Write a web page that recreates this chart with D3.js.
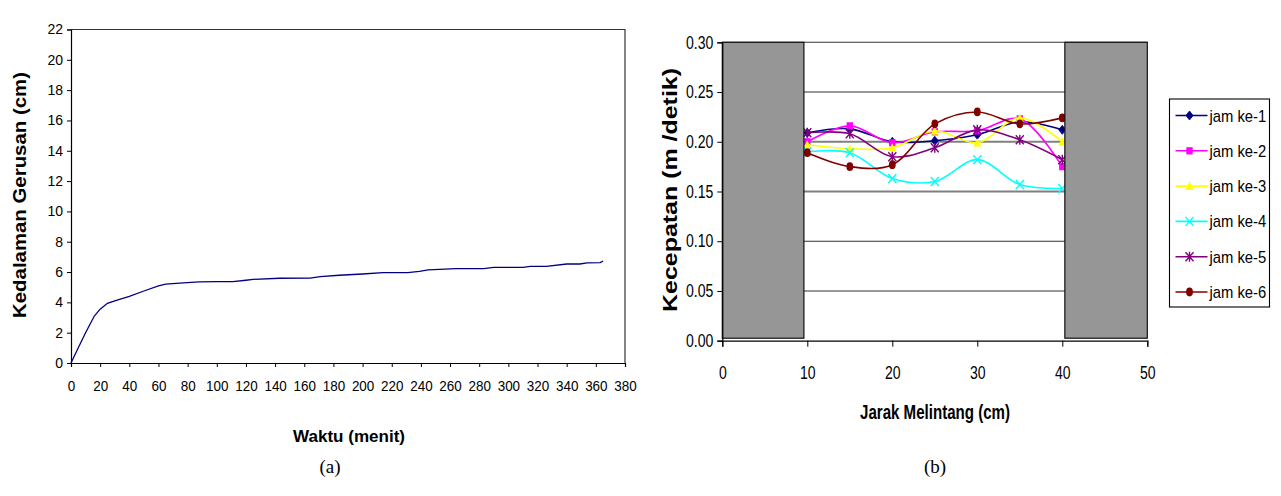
<!DOCTYPE html>
<html>
<head>
<meta charset="utf-8">
<script src="https://cdn.jsdelivr.net/npm/d3@7"></script>
<style>
  html, body { margin: 0; padding: 0; background: #fff; }
  svg { display: block; }
  text { font-family: "Liberation Sans", Arial, sans-serif; fill: #000; }
</style>
</head>
<body>
<svg id="chart" width="1281" height="496"></svg>
<script>
// ---------- Data: chart (a) ----------
const timeMin  = [0, 5, 10, 16, 20, 25, 30, 40, 50, 60, 65, 77, 88, 100, 111, 120, 125, 143, 164, 171, 184, 200, 214, 231, 239, 245, 264, 283, 290, 310, 315, 326, 340, 349, 354, 363, 365];
const depthCm  = [0, 1.0, 2.0, 3.1, 3.55, 3.94, 4.1, 4.4, 4.75, 5.08, 5.2, 5.28, 5.35, 5.37, 5.37, 5.46, 5.52, 5.59, 5.6, 5.7, 5.79, 5.87, 5.96, 5.96, 6.05, 6.14, 6.22, 6.22, 6.31, 6.31, 6.38, 6.38, 6.53, 6.53, 6.6, 6.62, 6.73];
const ticksA_x = [0,20,40,60,80,100,120,140,160,180,200,220,240,260,280,300,320,340,360,380];
const ticksA_y = [0,2,4,6,8,10,12,14,16,18,20,22];

// ---------- Data: chart (b) ----------
const jarak = [10, 15, 20, 25, 30, 35, 40];
const seriesNames = ["jam ke-1", "jam ke-2", "jam ke-3", "jam ke-4", "jam ke-5", "jam ke-6"];
const jam1 = [0.209, 0.213, 0.200, 0.201, 0.207, 0.220, 0.212];
const jam2 = [0.200, 0.216, 0.199, 0.210, 0.211, 0.223, 0.175];
const jam3 = [0.197, 0.193, 0.194, 0.211, 0.199, 0.224, 0.200];
const jam4 = [0.190, 0.189, 0.163, 0.160, 0.182, 0.157, 0.153];
const jam5 = [0.209, 0.208, 0.185, 0.194, 0.212, 0.202, 0.182];
const jam6 = [0.189, 0.175, 0.177, 0.218, 0.230, 0.218, 0.224];
const wallsX0 = [0, 40.3];
const wallsX1 = [9.6, 50];
const wallBottom = 0.0025, wallTop = 0.30;
const ticksB_x = [0, 10, 20, 30, 40, 50];
const ticksB_y = [0, 0.05, 0.10, 0.15, 0.20, 0.25, 0.30];

const colors  = ["#000080", "#FF00FF", "#FFFF00", "#00FFFF", "#800080", "#800000"];
const markers = ["diamond", "square", "triangle", "x", "star", "circle"];
const allSeries = [jam1, jam2, jam3, jam4, jam5, jam6];

const svg = d3.select("#chart");

function condense(sel, ratio) {
  sel.each(function () {
    const w = this.getComputedTextLength();
    this.setAttribute("textLength", (w * ratio).toFixed(2));
    this.setAttribute("lengthAdjust", "spacingAndGlyphs");
  });
}

// ================= Chart (a) =================
const xA = d3.scaleLinear().domain([0, 380]).range([71, 625]);
const yA = d3.scaleLinear().domain([0, 22]).range([363, 29.5]);

svg.append("path")
  .attr("d", `M${xA(0)},${yA(22)}H${xA(380)}V${yA(0)}`)
  .attr("fill", "none").attr("stroke", "#333").attr("stroke-width", 1.2);

const axAy = svg.append("g").attr("transform", `translate(${xA(0)},0)`)
  .call(d3.axisLeft(yA).tickValues(ticksA_y).tickSize(4).tickPadding(4).tickFormat(d3.format("d")));
const axAx = svg.append("g").attr("transform", `translate(0,${yA(0)})`)
  .call(d3.axisBottom(xA).tickValues(ticksA_x).tickSize(4).tickPadding(14).tickFormat(d3.format("d")));
[axAy, axAx].forEach(g => {
  g.select(".domain").attr("stroke", "#000").attr("stroke-width", 1.2);
  g.selectAll(".tick line").attr("stroke", "#000");
  g.selectAll("text").attr("font-size", 14).attr("font-family", "Liberation Sans, Arial, sans-serif").attr("fill", "#111");
});
condense(axAx.selectAll("text"), 0.96);

svg.append("path")
  .datum(timeMin.map((t, i) => [t, depthCm[i]]))
  .attr("d", d3.line().x(d => xA(d[0])).y(d => yA(d[1])))
  .attr("fill", "none").attr("stroke", "#000080").attr("stroke-width", 1.3);

svg.append("text")
  .attr("transform", `translate(26,195) rotate(-90)`)
  .attr("text-anchor", "middle").attr("font-weight", "bold").attr("font-size", 19)
  .attr("textLength", 246).attr("lengthAdjust", "spacingAndGlyphs")
  .text("Kedalaman Gerusan  (cm)");

svg.append("text")
  .attr("x", 349).attr("y", 441.5)
  .attr("text-anchor", "middle").attr("font-weight", "bold").attr("font-size", 17)
  .attr("textLength", 112).attr("lengthAdjust", "spacingAndGlyphs")
  .text("Waktu  (menit)");

svg.append("text")
  .attr("x", 330).attr("y", 473)
  .attr("text-anchor", "middle").attr("font-size", 19)
  .style("font-family", "Liberation Serif, 'Times New Roman', serif")
  .text("(a)");

// ================= Chart (b) =================
const xB = d3.scaleLinear().domain([0, 50]).range([722.3, 1147.3]);
const yB = d3.scaleLinear().domain([0, 0.30]).range([340.7, 42.3]);

svg.append("g").selectAll("line")
  .data(ticksB_y.filter(v => v > 0))
  .join("line")
  .attr("x1", xB(0)).attr("x2", xB(50))
  .attr("y1", d => yB(d)).attr("y2", d => yB(d))
  .attr("stroke", d => (Math.abs(d - 0.15) < 1e-9 || Math.abs(d - 0.20) < 1e-9) ? "#808080" : "#333")
  .attr("stroke-width", d => (Math.abs(d - 0.15) < 1e-9 || Math.abs(d - 0.20) < 1e-9) ? 2 : 1.1);

const lineB = d3.line().x((d, i) => xB(jarak[i])).y(d => yB(d)).curve(d3.curveCatmullRom.alpha(0.5));

function drawMarker(g, type, color, cx, cy) {
  if (type === "diamond") {
    g.append("path").attr("d", `M${cx},${cy-4.5}L${cx+3.6},${cy}L${cx},${cy+4.5}L${cx-3.6},${cy}Z`)
      .attr("fill", color).attr("stroke", color).attr("stroke-width", 0.8);
  } else if (type === "square") {
    g.append("rect").attr("x", cx - 3.2).attr("y", cy - 3.6).attr("width", 6.4).attr("height", 7.2)
      .attr("fill", color);
  } else if (type === "triangle") {
    g.append("path").attr("d", `M${cx},${cy-4.5}L${cx+4},${cy+3.8}L${cx-4},${cy+3.8}Z`)
      .attr("fill", color);
  } else if (type === "x") {
    g.append("path").attr("d", `M${cx-4},${cy-4.5}L${cx+4},${cy+4.5}M${cx+4},${cy-4.5}L${cx-4},${cy+4.5}`)
      .attr("stroke", color).attr("stroke-width", 1.4).attr("fill", "none");
  } else if (type === "star") {
    g.append("path").attr("d", `M${cx-4},${cy-4.5}L${cx+4},${cy+4.5}M${cx+4},${cy-4.5}L${cx-4},${cy+4.5}M${cx},${cy-5}L${cx},${cy+5}`)
      .attr("stroke", color).attr("stroke-width", 1.4).attr("fill", "none");
  } else if (type === "circle") {
    g.append("ellipse").attr("cx", cx).attr("cy", cy).attr("rx", 3.4).attr("ry", 4.4)
      .attr("fill", color);
  }
}

allSeries.forEach((vals, s) => {
  const g = svg.append("g");
  g.append("path").attr("d", lineB(vals))
    .attr("fill", "none").attr("stroke", colors[s]).attr("stroke-width", 1.6);
  vals.forEach((v, i) => drawMarker(g, markers[s], colors[s], xB(jarak[i]), yB(v)));
});

svg.append("g").selectAll("rect")
  .data(wallsX0.map((x0, i) => [x0, wallsX1[i]]))
  .join("rect")
  .attr("x", d => xB(d[0])).attr("width", d => xB(d[1]) - xB(d[0]))
  .attr("y", yB(wallTop)).attr("height", yB(wallBottom) - yB(wallTop))
  .attr("fill", "#969696").attr("stroke", "#111").attr("stroke-width", 1.2);

const axBy = svg.append("g").attr("transform", `translate(${xB(0)},0)`)
  .call(d3.axisLeft(yB).tickValues(ticksB_y).tickSize(5).tickPadding(4).tickFormat(d3.format(".2f")));
const axBx = svg.append("g").attr("transform", `translate(0,${yB(0)})`)
  .call(d3.axisBottom(xB).tickValues(ticksB_x).tickSize(6).tickPadding(20).tickFormat(d3.format("d")));
[axBy, axBx].forEach(g => {
  g.select(".domain").attr("stroke", "#000").attr("stroke-width", 1.2);
  g.selectAll(".tick line").attr("stroke", "#000");
  g.selectAll("text").attr("font-size", 18).attr("font-family", "Liberation Sans, Arial, sans-serif").attr("fill", "#000");
  condense(g.selectAll("text"), 0.78);
});

svg.append("text")
  .attr("transform", `translate(677,190) rotate(-90)`)
  .attr("text-anchor", "middle").attr("font-weight", "bold").attr("font-size", 21)
  .attr("textLength", 244).attr("lengthAdjust", "spacingAndGlyphs")
  .text("Kecepatan (m /detik)");

svg.append("text")
  .attr("x", 935).attr("y", 419)
  .attr("text-anchor", "middle").attr("font-weight", "bold").attr("font-size", 20)
  .attr("textLength", 150).attr("lengthAdjust", "spacingAndGlyphs")
  .text("Jarak Melintang (cm)");

svg.append("text")
  .attr("x", 935).attr("y", 473)
  .attr("text-anchor", "middle").attr("font-size", 19)
  .style("font-family", "Liberation Serif, 'Times New Roman', serif")
  .text("(b)");

// legend
const legX = 1169.5, legY = 99, legW = 100, legH = 208, legStep = 35.3;
const leg = svg.append("g");
leg.append("rect").attr("x", legX).attr("y", legY).attr("width", legW).attr("height", legH)
  .attr("fill", "#fff").attr("stroke", "#000").attr("stroke-width", 1.1);
seriesNames.forEach((name, s) => {
  const cy = legY + 16.5 + s * legStep;
  leg.append("line").attr("x1", legX + 6).attr("x2", legX + 38).attr("y1", cy).attr("y2", cy)
    .attr("stroke", colors[s]).attr("stroke-width", 1.6);
  drawMarker(leg, markers[s], colors[s], legX + 20, cy);
  const t = leg.append("text").attr("x", legX + 40).attr("y", cy + 6)
    .attr("font-size", 17).text(name);
  condense(t, 0.87);
});
</script>
</body>
</html>
